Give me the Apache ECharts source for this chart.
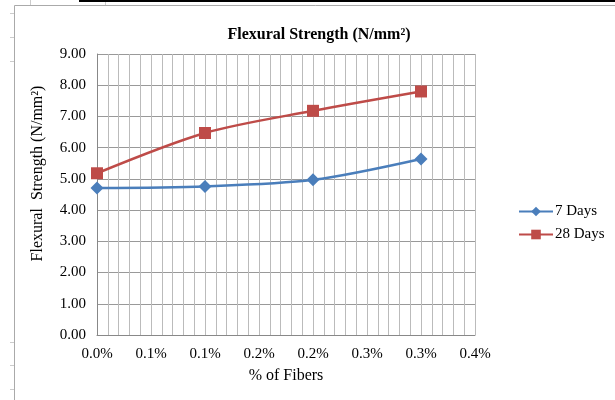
<!DOCTYPE html>
<html>
<head>
<meta charset="utf-8">
<script src="https://cdn.jsdelivr.net/npm/echarts@6/dist/echarts.min.js"></script>
<style>
  html, body { margin: 0; padding: 0; background: #fff; }
  #chart { width: 615px; height: 400px; }
</style>
</head>
<body>
<div id="chart"></div>
<script>
// Fibre content (% by volume) and flexural strength results
const fiberPct = [0.0, 0.1, 0.2, 0.3];
const days7 = [4.71, 4.76, 4.97, 5.64];
const days28 = [5.18, 6.47, 7.18, 7.80];
const seriesNames = ['7 Days', '28 Days'];
// x-axis tick labels at every 0.05 step (one decimal shown)
const xTickLabels = ['0.0%', '0.1%', '0.1%', '0.2%', '0.2%', '0.3%', '0.3%', '0.4%'];

const serif = '"Liberation Serif", "DejaVu Serif", serif';
const chart = echarts.init(document.getElementById('chart'));

const pairs = (ys) => fiberPct.map((x, i) => [x, ys[i]]);

chart.setOption({
  animation: false,
  backgroundColor: '#fff',
  title: {
    text: 'Flexural Strength (N/mm²)',
    left: 314, top: 22, textAlign: 'center',
    textStyle: { fontFamily: serif, fontSize: 16, fontWeight: 'bold', color: '#000' }
  },
  legend: {
    orient: 'vertical',
    left: 513, top: 199,
    itemGap: 8,
    itemWidth: 34, itemHeight: 12,
    textStyle: { fontFamily: serif, fontSize: 15, color: '#000', padding: [0, 0, 0, -3] },
    data: seriesNames
  },
  grid: { left: 97, right: 140, top: 54, bottom: 65 },
  xAxis: {
    type: 'value',
    min: 0, max: 0.35, interval: 0.01,
    name: '% of Fibers',
    nameLocation: 'middle', nameGap: 33,
    nameTextStyle: { fontFamily: serif, fontSize: 16, color: '#000' },
    axisLine: { lineStyle: { color: '#888', width: 1 } },
    axisTick: { show: false },
    axisLabel: {
      fontFamily: serif, fontSize: 15, color: '#000', margin: 12,
      showMaxLabel: true,
      formatter: (v) => {
        const k = Math.round(v / 0.01);
        return k % 5 === 0 ? xTickLabels[k / 5] : '';
      }
    },
    splitLine: { show: true, lineStyle: { color: '#bbb', width: 1 } }
  },
  yAxis: {
    type: 'value',
    min: 0, max: 9, interval: 1,
    name: 'Flexural  Strength (N/mm²)',
    nameLocation: 'middle', nameGap: 51,
    nameTextStyle: { fontFamily: serif, fontSize: 16, color: '#000', padding: [0, 0, 0, 42] },
    axisLine: { show: true, lineStyle: { color: '#888', width: 1 } },
    axisTick: { show: false },
    axisLabel: { fontFamily: serif, fontSize: 15, color: '#000', margin: 11,
      formatter: (v) => v.toFixed(2) },
    splitLine: { show: true, lineStyle: { color: '#999', width: 1 } }
  },
  series: [
    {
      name: seriesNames[0], type: 'line', smooth: 0.3,
      data: pairs(days7),
      symbol: 'diamond', symbolSize: 13,
      itemStyle: { color: '#4a7ebb' },
      lineStyle: { color: '#4a7ebb', width: 2.5 }
    },
    {
      name: seriesNames[1], type: 'line', smooth: 0.3,
      data: pairs(days28),
      symbol: 'rect', symbolSize: 12,
      itemStyle: { color: '#be4b48' },
      lineStyle: { color: '#be4b48', width: 2.5 }
    }
  ],
  graphic: [
    // chart frame and surrounding sheet lines
    { type: 'rect', shape: { x: 14.5, y: 5.5, width: 620, height: 420 },
      style: { fill: null, stroke: '#aaa', lineWidth: 1 }, silent: true },
    { type: 'line', shape: { x1: 30.5, y1: 0, x2: 30.5, y2: 5 }, style: { stroke: '#ccc' } },
    { type: 'line', shape: { x1: 105.5, y1: 0, x2: 105.5, y2: 5 }, style: { stroke: '#ccc' } },
    { type: 'rect', shape: { x: 79, y: 0, width: 536, height: 2 },
      style: { fill: '#000' }, silent: true },
    { type: 'line', shape: { x1: 10, y1: 13.5, x2: 14, y2: 13.5 }, style: { stroke: '#ccc' } },
    { type: 'line', shape: { x1: 10, y1: 37.5, x2: 14, y2: 37.5 }, style: { stroke: '#ccc' } },
    { type: 'line', shape: { x1: 10, y1: 61.5, x2: 14, y2: 61.5 }, style: { stroke: '#ccc' } },
    { type: 'line', shape: { x1: 10, y1: 342.5, x2: 14, y2: 342.5 }, style: { stroke: '#ccc' } },
    { type: 'line', shape: { x1: 10, y1: 365.5, x2: 14, y2: 365.5 }, style: { stroke: '#ccc' } },
    { type: 'line', shape: { x1: 10, y1: 389.5, x2: 14, y2: 389.5 }, style: { stroke: '#ccc' } }
  ]
});
</script>
</body>
</html>
